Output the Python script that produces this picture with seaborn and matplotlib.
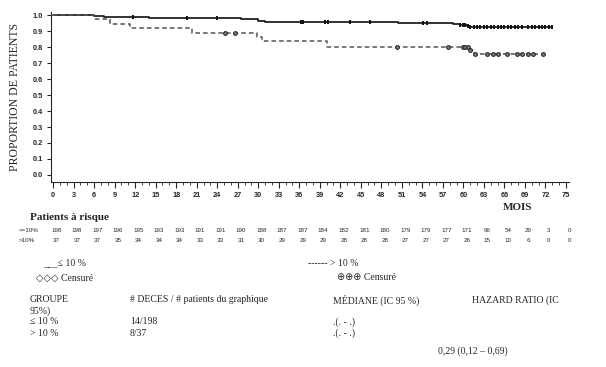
import numpy as np
import matplotlib
matplotlib.use('Agg')
import matplotlib.pyplot as plt
import matplotlib.transforms as mtransforms
import seaborn as sns

# Courbes de survie
t_le10 = [0, 6, 7.5, 13, 14, 27.5, 30, 31, 50.5, 58.5, 59.5, 60.5, 61, 73]
s_le10 = [1.0, 0.995, 0.99, 0.985, 0.98, 0.975, 0.965, 0.955, 0.95, 0.945, 0.94, 0.93, 0.925, 0.925]
t_gt10 = [0, 6, 8.3, 11.3, 20.3, 29.8, 30.5, 40, 61, 61.5, 71.6]
s_gt10 = [1.0, 0.973, 0.946, 0.919, 0.89, 0.862, 0.835, 0.80, 0.78, 0.755, 0.755]

# Temps censurés
cens_le10 = [11.7, 19.6, 24.0, 36.2, 36.5, 39.8, 40.2, 43.4, 46.3, 54.1, 54.7, 59.5, 60.0,
             60.3, 60.6, 61.0, 61.5, 62, 62.5, 63, 63.5, 64, 64.5, 65, 65.5, 66, 66.5, 67,
             67.5, 68, 68.5, 69.5, 70, 70.5, 71, 71.5, 72, 72.5, 73]
cens_gt10 = [25.1, 26.6, 50.3, 57.8, 60.0, 60.3, 60.6, 61.0, 61.7, 63.5, 64.3, 65.0, 66.4,
             67.8, 68.6, 69.4, 70.2, 71.6]

# Patients à risque
mois_ticks = list(range(0, 76, 3))
risk_le10 = [198, 198, 197, 196, 195, 193, 193, 191, 191, 190, 188, 187, 187, 184, 182, 181,
             180, 179, 179, 177, 171, 96, 54, 29, 3, 0]
risk_gt10 = [37, 37, 37, 35, 34, 34, 34, 33, 33, 31, 30, 29, 29, 29, 28, 28, 28, 27, 27, 27,
             26, 15, 10, 6, 0, 0]


def surv_at(times, t_steps, s_steps):
    idx = np.searchsorted(t_steps, times, side='right') - 1
    return np.array(s_steps)[idx]


sns.set_style('ticks')
plt.rcParams['font.family'] = ['Liberation Serif', 'DejaVu Sans']

W, H = 606, 367
fig = plt.figure(figsize=(W / 100, H / 100), dpi=100)
ax = fig.add_axes([0.0842, 0.504, 0.8554, 0.4638])

sns.lineplot(x=t_le10, y=s_le10, ax=ax, color='#111111', linewidth=1.2,
             drawstyle='steps-post', estimator=None, sort=False)
sns.lineplot(x=t_gt10, y=s_gt10, ax=ax, color='#555555', linewidth=1.1,
             drawstyle='steps-post', estimator=None, sort=False)
ax.lines[-1].set_linestyle((0, (3, 2)))

sns.scatterplot(x=cens_le10, y=surv_at(cens_le10, t_le10, s_le10), ax=ax,
                marker='|', s=10, color='#111111', linewidth=1.4, zorder=3)
sns.scatterplot(x=cens_gt10, y=surv_at(cens_gt10, t_gt10, s_gt10), ax=ax,
                marker='o', s=7, facecolor='#888888', edgecolor='#222222',
                linewidth=0.8, zorder=3)

ax.set_xlim(-0.3, 75.5)
ax.set_ylim(-0.044, 1.02)
ax.set_xticks(mois_ticks)
ax.set_xticks(range(0, 76), minor=True)
ax.set_yticks(np.round(np.arange(0, 1.01, 0.1), 1))
ax.set_yticklabels([f'{v:.1f}' for v in np.arange(0, 1.01, 0.1)])
for lab in ax.get_xticklabels() + ax.get_yticklabels():
    lab.set_fontfamily('Liberation Sans')
    lab.set_fontweight('bold')
    lab.set_fontsize(5.3)
ax.tick_params(axis='x', which='major', length=4, width=0.8, pad=3)
ax.tick_params(axis='x', which='minor', length=2, width=0.6)
ax.tick_params(axis='y', length=3, width=0.8, pad=3)
for side in ['top', 'right']:
    ax.spines[side].set_visible(False)
for side in ['left', 'bottom']:
    ax.spines[side].set_linewidth(0.8)
ax.set_xlabel('')
ax.set_ylabel('PROPORTION DE PATIENTS', fontsize=8.5, fontfamily='Liberation Serif', labelpad=8)


def fy(py):
    return 1 - py / H


def fx(px):
    return px / W


fig.text(fx(518), fy(207), 'MOIS', fontsize=8, fontweight='bold', ha='center', va='center')
fig.text(fx(30), fy(218), 'Patients à risque', fontsize=8, fontweight='bold', ha='left', va='center')
fig.text(fx(19), fy(231), '<=10%', fontsize=4.5, fontfamily='Liberation Sans', ha='left', va='center')
fig.text(fx(19), fy(240), '>10%', fontsize=4.5, fontfamily='Liberation Sans', ha='left', va='center')

trans = mtransforms.blended_transform_factory(ax.transData, fig.transFigure)
for m, a, b in zip(mois_ticks, risk_le10, risk_gt10):
    ax.text(m + 0.5, fy(231), str(a), transform=trans, fontsize=4.5,
            fontfamily='Liberation Sans', ha='center', va='center')
    ax.text(m + 0.5, fy(240), str(b), transform=trans, fontsize=4.5,
            fontfamily='Liberation Sans', ha='center', va='center')

fs = 7
fig.text(fx(43), fy(263), '___≤ 10 %', fontsize=fs, ha='left', va='center')
fig.text(fx(36), fy(278), '◇◇◇ Censuré', fontsize=fs, ha='left', va='center')
fig.text(fx(308), fy(263), '------ > 10 %', fontsize=fs, ha='left', va='center')
fig.text(fx(337), fy(278), '⊕⊕⊕ Censuré', fontsize=fs, ha='left', va='center')

fig.text(fx(30), fy(300), 'GROUPE', fontsize=fs, ha='left', va='center')
fig.text(fx(30), fy(311), '95%)', fontsize=fs, ha='left', va='center')
fig.text(fx(30), fy(322), '≤ 10 %', fontsize=fs, ha='left', va='center')
fig.text(fx(30), fy(333), '> 10 %', fontsize=fs, ha='left', va='center')
fig.text(fx(130), fy(300), '# DECES / # patients du graphique', fontsize=fs, ha='left', va='center')
fig.text(fx(130), fy(322), '14/198', fontsize=fs, ha='left', va='center')
fig.text(fx(130), fy(333), '8/37', fontsize=fs, ha='left', va='center')
fig.text(fx(333), fy(300), 'MÉDIANE (IC 95 %)', fontsize=fs, ha='left', va='center')
fig.text(fx(333), fy(322), '.(. - .)', fontsize=fs, ha='left', va='center')
fig.text(fx(333), fy(333), '.(. - .)', fontsize=fs, ha='left', va='center')
fig.text(fx(472), fy(300), 'HAZARD RATIO (IC', fontsize=fs, ha='left', va='center')
fig.text(fx(438), fy(351), '0,29 (0,12 – 0,69)', fontsize=fs, ha='left', va='center')

fig.savefig('out.png', dpi=100)
